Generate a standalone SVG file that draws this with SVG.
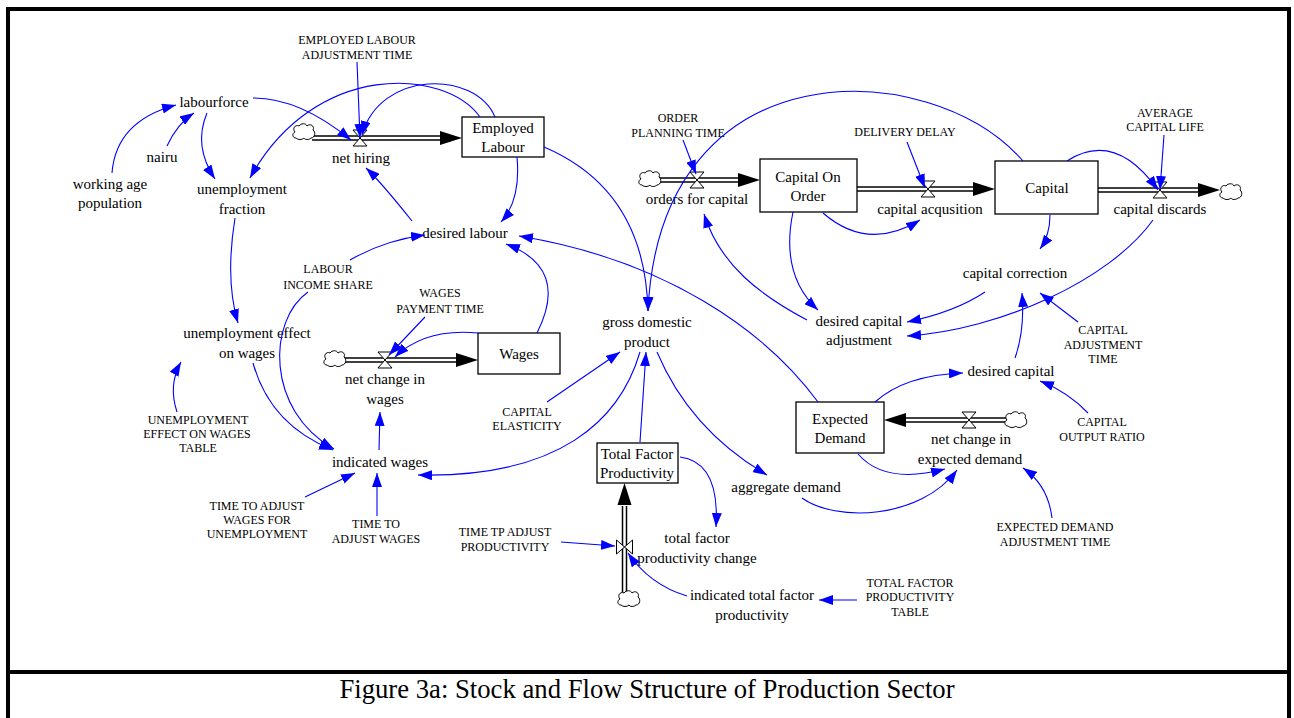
<svg xmlns="http://www.w3.org/2000/svg" width="1294" height="718" viewBox="0 0 1294 718">
<style>
  text { font-family: "Liberation Serif", "Times New Roman", serif; fill: #000; text-anchor: middle; }
  .v { font-size: 15px; }
  .c { font-size: 12px; }
  .cap { font-size: 26.7px; }
  .stock { fill: #fff; stroke: #000; stroke-width: 1.3; }
  .pipe-o { stroke: #000; stroke-width: 5.5; fill: none; }
  .pipe-i { stroke: #fff; stroke-width: 2.5; fill: none; }
  .valve { fill: #fff; stroke: #000; stroke-width: 1; }
  .cloud { fill: #fff; stroke: #000; stroke-width: 1; }
  .head { fill: #000; }
  .link { fill: none; stroke: #0000ff; stroke-width: 1.1; marker-end: url(#ah); }
  .frame { stroke: #000; stroke-width: 4; fill: none; }
</style>
<defs>
  <marker id="ah" markerUnits="userSpaceOnUse" markerWidth="15" markerHeight="10" refX="14" refY="5" orient="auto">
    <path d="M0,0 L14,5 L0,10 Z" fill="#0000ff"/>
  </marker>
  <path id="cloudShape" d="M-8,6 C-12,6 -12,1 -9,0 C-12,-3 -9,-8 -5,-6 C-3,-9 2,-9 3,-6 C6,-9 11,-6 9,-2 C12,0 11,6 7,6 C5,8 1,8 0,6 C-2,8 -6,8 -8,6 Z"/>
  <path id="valveH" d="M-7,-8 H7 L-7,8 H7 Z"/>
  <path id="valveV" d="M-8,-7 V7 L8,-7 V7 Z"/>
  <path id="flowHead" d="M0,0 L-22,-7 L-22,7 Z"/>
</defs>

<rect x="0" y="0" width="1294" height="718" fill="#fff"/>

<!-- outer frame and caption rule -->
<g id="frame" class="frame">
  <line x1="6" y1="9" x2="1291" y2="9"/>
  <line x1="8" y1="7" x2="8" y2="718"/>
  <line x1="1289" y1="7" x2="1289" y2="718"/>
  <line x1="8" y1="672" x2="1289" y2="672"/>
</g>

<!-- flows: pipes, valves, clouds -->
<g id="net-hiring">
  <line class="pipe-o" x1="312" y1="138" x2="441" y2="138"/>
  <line class="pipe-i" x1="312" y1="138" x2="443" y2="138"/>
  <use href="#cloudShape" class="cloud" x="304" y="132"/>
  <use href="#flowHead" class="head" x="462" y="138"/>
  <use href="#valveH" class="valve" x="360" y="138"/>
  <text class="v" x="361" y="163">net hiring</text>
</g>

<g id="orders-for-capital">
  <line class="pipe-o" x1="658" y1="180" x2="739" y2="180"/>
  <line class="pipe-i" x1="658" y1="180" x2="741" y2="180"/>
  <use href="#cloudShape" class="cloud" x="650" y="179"/>
  <use href="#flowHead" class="head" x="760" y="180"/>
  <use href="#valveH" class="valve" x="697" y="180"/>
  <text class="v" x="697" y="204">orders for capital</text>
</g>

<g id="capital-acqusition">
  <line class="pipe-o" x1="857" y1="189" x2="974" y2="189"/>
  <line class="pipe-i" x1="857" y1="189" x2="976" y2="189"/>
  <use href="#flowHead" class="head" x="995" y="189"/>
  <use href="#valveH" class="valve" x="928" y="189"/>
  <text class="v" x="930" y="214">capital acqusition</text>
</g>

<g id="capital-discards">
  <line class="pipe-o" x1="1098" y1="190" x2="1199" y2="190"/>
  <line class="pipe-i" x1="1098" y1="190" x2="1201" y2="190"/>
  <use href="#flowHead" class="head" x="1220" y="190"/>
  <use href="#cloudShape" class="cloud" x="1231" y="192"/>
  <use href="#valveH" class="valve" x="1160" y="190"/>
  <text class="v" x="1160" y="214">capital discards</text>
</g>

<g id="net-change-in-wages">
  <line class="pipe-o" x1="343" y1="360" x2="456" y2="360"/>
  <line class="pipe-i" x1="343" y1="360" x2="458" y2="360"/>
  <use href="#cloudShape" class="cloud" x="335" y="359"/>
  <use href="#flowHead" class="head" x="478" y="360"/>
  <use href="#valveH" class="valve" x="385" y="360"/>
  <text class="v" x="385" y="384">net change in</text>
  <text class="v" x="385" y="404">wages</text>
</g>

<g id="net-change-in-expected-demand">
  <line class="pipe-o" x1="906" y1="420" x2="1007" y2="420"/>
  <line class="pipe-i" x1="904" y1="420" x2="1007" y2="420"/>
  <use href="#flowHead" class="head" transform="translate(884,420) rotate(180)"/>
  <use href="#cloudShape" class="cloud" x="1016" y="420"/>
  <use href="#valveH" class="valve" x="969" y="420"/>
  <text class="v" x="971" y="444">net change in</text>
  <text class="v" x="970" y="464">expected demand</text>
</g>

<g id="total-factor-productivity-change">
  <line class="pipe-o" x1="624.5" y1="593" x2="624.5" y2="506"/>
  <line class="pipe-i" x1="624.5" y1="593" x2="624.5" y2="504"/>
  <use href="#flowHead" class="head" transform="translate(624.5,483) rotate(-90)"/>
  <use href="#cloudShape" class="cloud" x="629" y="599"/>
  <use href="#valveV" class="valve" x="624.5" y="547"/>
  <text class="v" x="697" y="543">total factor</text>
  <text class="v" x="697" y="563">productivity change</text>
</g>

<!-- stocks -->
<g id="employed-labour">
  <rect class="stock" x="462" y="117" width="82" height="40"/>
  <text class="v" x="503" y="133">Employed</text>
  <text class="v" x="503" y="152">Labour</text>
</g>
<g id="capital-on-order">
  <rect class="stock" x="760" y="159" width="97" height="53"/>
  <text class="v" x="808" y="182">Capital On</text>
  <text class="v" x="808" y="201">Order</text>
</g>
<g id="capital">
  <rect class="stock" x="995" y="161" width="103" height="53"/>
  <text class="v" x="1047" y="193">Capital</text>
</g>
<g id="wages">
  <rect class="stock" x="478" y="333" width="82" height="41"/>
  <text class="v" x="519" y="359">Wages</text>
</g>
<g id="expected-demand">
  <rect class="stock" x="796" y="402" width="88" height="51"/>
  <text class="v" x="840" y="424">Expected</text>
  <text class="v" x="840" y="443">Demand</text>
</g>
<g id="total-factor-productivity">
  <rect class="stock" x="597" y="443" width="81" height="40"/>
  <text class="v" x="637" y="459">Total Factor</text>
  <text class="v" x="637" y="478">Productivity</text>
</g>

<!-- auxiliaries and constants -->
<g id="employed-labour-adjustment-time">
  <text class="c" x="357" y="44">EMPLOYED LABOUR</text>
  <text class="c" x="357" y="59">ADJUSTMENT TIME</text>
</g>
<g id="labourforce"><text class="v" x="214" y="107">labourforce</text></g>
<g id="nairu"><text class="v" x="162" y="162">nairu</text></g>
<g id="working-age-population">
  <text class="v" x="110" y="189">working age</text>
  <text class="v" x="110" y="208">population</text>
</g>
<g id="unemployment-fraction">
  <text class="v" x="242" y="194">unemployment</text>
  <text class="v" x="242" y="214">fraction</text>
</g>
<g id="desired-labour"><text class="v" x="465" y="238">desired labour</text></g>
<g id="labour-income-share">
  <text class="c" x="328" y="273">LABOUR</text>
  <text class="c" x="328" y="289">INCOME SHARE</text>
</g>
<g id="unemployment-effect-on-wages">
  <text class="v" x="247" y="338">unemployment effect</text>
  <text class="v" x="247" y="358">on wages</text>
</g>
<g id="wages-payment-time">
  <text class="c" x="440" y="297">WAGES</text>
  <text class="c" x="440" y="313">PAYMENT TIME</text>
</g>
<g id="unemployment-effect-on-wages-table">
  <text class="c" x="198" y="424">UNEMPLOYMENT</text>
  <text class="c" x="197" y="438">EFFECT ON WAGES</text>
  <text class="c" x="198" y="452">TABLE</text>
</g>
<g id="indicated-wages"><text class="v" x="380" y="467">indicated wages</text></g>
<g id="time-to-adjust-wages-for-unemployment">
  <text class="c" x="257" y="510">TIME TO ADJUST</text>
  <text class="c" x="257" y="524">WAGES FOR</text>
  <text class="c" x="257" y="538">UNEMPLOYMENT</text>
</g>
<g id="time-to-adjust-wages">
  <text class="c" x="376" y="528">TIME TO</text>
  <text class="c" x="376" y="543">ADJUST WAGES</text>
</g>
<g id="gross-domestic-product">
  <text class="v" x="647" y="327">gross domestic</text>
  <text class="v" x="647" y="347">product</text>
</g>
<g id="capital-elasticity">
  <text class="c" x="527" y="416">CAPITAL</text>
  <text class="c" x="527" y="430">ELASTICITY</text>
</g>
<g id="time-tp-adjust-productivity">
  <text class="c" x="505" y="536">TIME TP ADJUST</text>
  <text class="c" x="505" y="551">PRODUCTIVITY</text>
</g>
<g id="indicated-total-factor-productivity">
  <text class="v" x="752" y="600">indicated total factor</text>
  <text class="v" x="752" y="620">productivity</text>
</g>
<g id="total-factor-productivity-table">
  <text class="c" x="910" y="587">TOTAL FACTOR</text>
  <text class="c" x="910" y="601">PRODUCTIVITY</text>
  <text class="c" x="910" y="616">TABLE</text>
</g>
<g id="aggregate-demand"><text class="v" x="786" y="492">aggregate demand</text></g>
<g id="order-planning-time">
  <text class="c" x="678" y="122">ORDER</text>
  <text class="c" x="678" y="137">PLANNING TIME</text>
</g>
<g id="delivery-delay"><text class="c" x="905" y="136">DELIVERY DELAY</text></g>
<g id="average-capital-life">
  <text class="c" x="1165" y="117">AVERAGE</text>
  <text class="c" x="1165" y="131">CAPITAL LIFE</text>
</g>
<g id="capital-correction"><text class="v" x="1015" y="278">capital correction</text></g>
<g id="desired-capital-adjustment">
  <text class="v" x="859" y="326">desired capital</text>
  <text class="v" x="859" y="345">adjustment</text>
</g>
<g id="capital-adjustment-time">
  <text class="c" x="1103" y="334">CAPITAL</text>
  <text class="c" x="1103" y="349">ADJUSTMENT</text>
  <text class="c" x="1103" y="363">TIME</text>
</g>
<g id="desired-capital"><text class="v" x="1011" y="376">desired capital</text></g>
<g id="capital-output-ratio">
  <text class="c" x="1102" y="426">CAPITAL</text>
  <text class="c" x="1102" y="441">OUTPUT RATIO</text>
</g>
<g id="expected-demand-adjustment-time">
  <text class="c" x="1055" y="531">EXPECTED DEMAND</text>
  <text class="c" x="1055" y="546">ADJUSTMENT TIME</text>
</g>

<!-- information links -->
<g id="connectors">
  <path class="link" d="M112,173 Q116,121 176,105"/>
  <path class="link" d="M167,146 Q177,124 194,113"/>
  <path class="link" d="M207,113 Q193,146 215,179"/>
  <path class="link" d="M253,98 Q300,98 351,140"/>
  <path class="link" d="M480,117 C445,68 315,60 250,178"/>
  <path class="link" d="M495,117 C475,70 380,70 362,135"/>
  <path class="link" d="M357,62 L360,138"/>
  <path class="link" d="M517,157 Q521,200 501,222"/>
  <path class="link" d="M412,221 Q380,181 366,168"/>
  <path class="link" d="M544,147 Q645,190 648,311"/>
  <path class="link" d="M350,260 Q385,240 425,235"/>
  <path class="link" d="M308,292 C268,320 265,410 334,449"/>
  <path class="link" d="M235,218 Q225,280 238,323"/>
  <path class="link" d="M253,363 Q270,425 333,450"/>
  <path class="link" d="M177,412 Q168,385 181,362"/>
  <path class="link" d="M425,317 L389,355"/>
  <path class="link" d="M478,333 Q425,328 395,357"/>
  <path class="link" d="M537,333 Q570,268 506,244"/>
  <path class="link" d="M379,450 L380,412"/>
  <path class="link" d="M305,497 L355,473"/>
  <path class="link" d="M377,516 L377,473"/>
  <path class="link" d="M640,352 C620,420 560,478 418,475"/>
  <path class="link" d="M547,402 L620,352"/>
  <path class="link" d="M640,442 L646,352"/>
  <path class="link" d="M657,352 Q690,430 767,475"/>
  <path class="link" d="M680,457 Q720,462 716,527"/>
  <path class="link" d="M561,542 L615,546"/>
  <path class="link" d="M687,596 Q650,585 628,553"/>
  <path class="link" d="M857,600 L819,600"/>
  <path class="link" d="M802,498 C835,522 920,520 957,470"/>
  <path class="link" d="M858,454 Q885,485 945,469"/>
  <path class="link" d="M1052,518 Q1048,485 1023,468"/>
  <path class="link" d="M875,402 Q905,375 963,373"/>
  <path class="link" d="M818,402 C765,330 665,260 519,236"/>
  <path class="link" d="M1088,413 Q1068,392 1040,381"/>
  <path class="link" d="M1015,358 Q1025,330 1022,293"/>
  <path class="link" d="M1078,322 L1040,293"/>
  <path class="link" d="M985,292 Q955,312 907,322"/>
  <path class="link" d="M1153,220 C1110,280 1000,330 907,336"/>
  <path class="link" d="M793,212 Q780,275 818,310"/>
  <path class="link" d="M823,213 Q868,252 920,220"/>
  <path class="link" d="M907,142 L925,188"/>
  <path class="link" d="M807,320 C760,295 720,265 704,214"/>
  <path class="link" d="M1023,161 C930,55 660,45 648,311"/>
  <path class="link" d="M683,140 L696,174"/>
  <path class="link" d="M1067,161 Q1115,130 1158,190"/>
  <path class="link" d="M1164,135 L1160,190"/>
  <path class="link" d="M1050,215 Q1050,235 1040,249"/>
</g>

<g id="caption">
  <text class="cap" x="647" y="698">Figure 3a: Stock and Flow Structure of Production Sector</text>
</g>
</svg>
